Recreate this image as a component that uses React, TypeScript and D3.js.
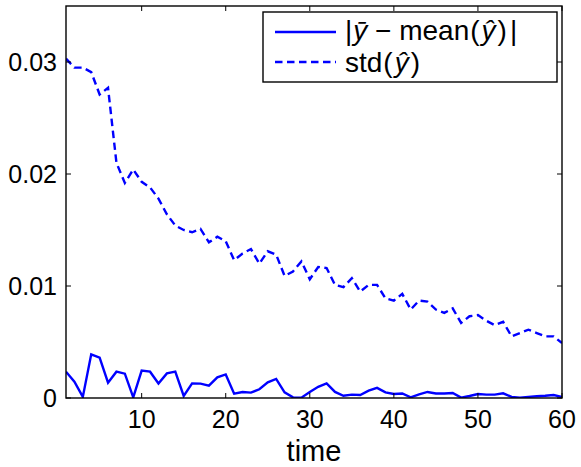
import React from "react";
import * as d3 from "d3";

const times: number[] = Array.from({ length: 60 }, (_, i) => i + 1);

const diffMean: number[] = [
  0.00235, 0.00146, 0.0001, 0.0039, 0.0036, 0.00137, 0.00235, 0.00217, 0.00006, 0.00244,
  0.00235, 0.0013, 0.0022, 0.00235, 0.00018, 0.0013, 0.00128, 0.0011, 0.00185, 0.0021,
  0.00039, 0.00054, 0.00048, 0.00078, 0.0014, 0.0017, 0.0005, 0.00006, 0.00003, 0.00054,
  0.001, 0.0013, 0.00054, 0.0002, 0.0003, 0.00027, 0.00065, 0.0009, 0.0005, 0.00036,
  0.0004, 0.00006, 0.00033, 0.00054, 0.0004, 0.0004, 0.00045, 0.00003, 0.00018, 0.00036,
  0.0003, 0.0003, 0.00042, 0.0001, 0.00003, 0.0001, 0.00015, 0.0002, 0.00027, 0.0001,
];

const stdVals: number[] = [
  0.0303, 0.0295, 0.0295, 0.0291, 0.0271, 0.0277, 0.021, 0.0192, 0.0204, 0.0193,
  0.0188, 0.0178, 0.0164, 0.0154, 0.015, 0.0148, 0.0151, 0.0139, 0.0144, 0.014,
  0.0123, 0.0129, 0.0133, 0.012, 0.0131, 0.0128, 0.0109, 0.0113, 0.0122, 0.0106,
  0.0117, 0.0116, 0.0101, 0.0099, 0.0107, 0.0095, 0.0101, 0.0101, 0.0089, 0.0087,
  0.0093, 0.0079, 0.0087, 0.0086, 0.0079, 0.0076, 0.008, 0.0067, 0.0073, 0.0074,
  0.0069, 0.0065, 0.0068, 0.0055, 0.0058, 0.0061, 0.0058, 0.0055, 0.0055, 0.0049,
];

const xTicks: number[] = [10, 20, 30, 40, 50, 60];
const yTicks: number[] = [0, 0.01, 0.02, 0.03];
const yTickLabels: string[] = ["0", "0.01", "0.02", "0.03"];
const xLabel = "time";

const W = 581;
const H = 467;
const left = 66;
const right = 562;
const top = 6;
const bottom = 398;

export default function App() {
  const x = d3.scaleLinear().domain([1, 60]).range([left, right]);
  const y = d3.scaleLinear().domain([0, 0.035]).range([bottom, top]);
  const line = d3
    .line<number>()
    .x((_, i) => x(times[i]))
    .y((d) => y(d));
  const font = "'Liberation Sans', Arial, Helvetica, sans-serif";
  const tl = 5;
  return (
    <svg
      width={W}
      height={H}
      style={{ position: "absolute", left: 0, top: 0, background: "#fff" }}
      fontFamily={font}
    >
      <rect x={0} y={0} width={W} height={H} fill="#fff" />
      <defs>
        <clipPath id="plot">
          <rect x={left} y={top} width={right - left} height={bottom - top} />
        </clipPath>
      </defs>
      <g clipPath="url(#plot)">
        <path d={line(stdVals) || ""} fill="none" stroke="#0000ff" strokeWidth={2.4} strokeDasharray="7.5,4.5" />
        <path d={line(diffMean) || ""} fill="none" stroke="#0000ff" strokeWidth={2.4} />
      </g>
      <g stroke="#000" strokeWidth={1}>
        {xTicks.map((t) => (
          <g key={"xt" + t}>
            <line x1={x(t)} x2={x(t)} y1={bottom} y2={bottom - tl} />
            <line x1={x(t)} x2={x(t)} y1={top} y2={top + tl} />
          </g>
        ))}
        {yTicks.map((t) => (
          <g key={"yt" + t}>
            <line x1={left} x2={left + tl} y1={y(t)} y2={y(t)} />
            <line x1={right} x2={right - tl} y1={y(t)} y2={y(t)} />
          </g>
        ))}
      </g>
      <rect x={left} y={top} width={right - left} height={bottom - top} fill="none" stroke="#000" strokeWidth={1.4} />
      <g fontSize={25} fill="#000">
        {xTicks.map((t) => (
          <text key={"xl" + t} x={x(t)} y={428} textAnchor="middle">
            {t}
          </text>
        ))}
        {yTicks.map((t, i) => (
          <text key={"yl" + t} x={57} y={y(t) + 9} textAnchor="end">
            {yTickLabels[i]}
          </text>
        ))}
      </g>
      <text x={(left + right) / 2} y={461} fontSize={29} textAnchor="middle">
        {xLabel}
      </text>
      <rect x={263} y={12} width={294} height={70} fill="#fff" stroke="#000" strokeWidth={1.4} />
      <line x1={275} x2={336} y1={32} y2={32} stroke="#0000ff" strokeWidth={2.4} />
      <line x1={275} x2={336} y1={62} y2={62} stroke="#0000ff" strokeWidth={2.4} strokeDasharray="7.5,4.5" />
      <text x={345} y={40} fontSize={28} fill="#000">
        <tspan>|</tspan>
        <tspan fontStyle="italic" dx={1}>ȳ</tspan>
        <tspan> − mean</tspan>
        <tspan dx={1}>(</tspan>
        <tspan fontStyle="italic" dx={2}>ŷ</tspan>
        <tspan dx={2}>)</tspan>
        <tspan dx={3}>|</tspan>
      </text>
      <text x={345} y={72} fontSize={28} fill="#000">
        <tspan>std</tspan>
        <tspan dx={1}>(</tspan>
        <tspan fontStyle="italic" dx={2}>ŷ</tspan>
        <tspan dx={2}>)</tspan>
      </text>
    </svg>
  );
}
